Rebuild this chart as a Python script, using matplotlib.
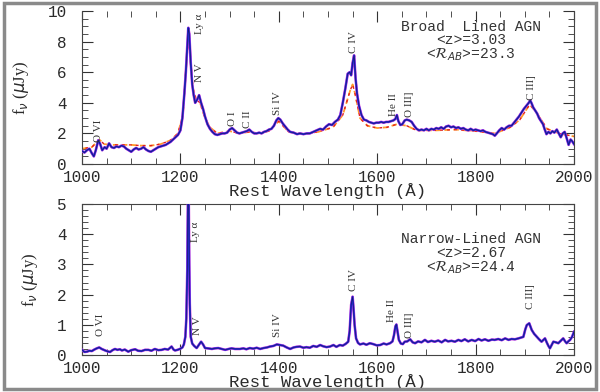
import matplotlib
matplotlib.use('Agg')
import matplotlib.pyplot as plt
from matplotlib.patches import Rectangle
from matplotlib.ticker import MultipleLocator

# Broad-lined AGN composite (rest wavelength in A, flux density in uJy)
broad_wave = [1000, 1005, 1010, 1015, 1020, 1024, 1028, 1033, 1037, 1041, 1046, 1050, 1055, 1060,
              1065, 1070, 1075, 1080, 1085, 1090, 1095, 1100, 1105, 1110, 1115, 1120, 1125, 1130,
              1135, 1140, 1145, 1150, 1155, 1160, 1165, 1170, 1175, 1180, 1185, 1190, 1195, 1200,
              1204, 1208, 1211, 1214, 1216, 1218, 1221, 1224, 1227, 1230, 1234, 1238, 1242, 1246,
              1250, 1255, 1260, 1265, 1270, 1275, 1280, 1285, 1290, 1295, 1300, 1305, 1310, 1315,
              1320, 1325, 1330, 1335, 1340, 1345, 1350, 1355, 1360, 1365, 1370, 1375, 1380, 1385,
              1390, 1395, 1399, 1403, 1408, 1413, 1418, 1423, 1430, 1437, 1443, 1450, 1457, 1463,
              1470, 1477, 1484, 1490, 1496, 1502, 1508, 1514, 1520, 1525, 1530, 1535, 1540, 1544,
              1547, 1550, 1553, 1556, 1559, 1563, 1568, 1573, 1578, 1583, 1588, 1593, 1598, 1603,
              1608, 1613, 1618, 1623, 1628, 1633, 1637, 1640, 1643, 1647, 1651, 1656, 1660, 1665,
              1670, 1675, 1680, 1685, 1690, 1695, 1700, 1705, 1710, 1715, 1720, 1725, 1730, 1735,
              1740, 1745, 1750, 1755, 1760, 1765, 1770, 1775, 1780, 1785, 1790, 1795, 1800, 1805,
              1810, 1815, 1820, 1825, 1830, 1835, 1839, 1843, 1848, 1853, 1858, 1863, 1868, 1873,
              1878, 1883, 1888, 1893, 1898, 1903, 1908, 1911, 1914, 1917, 1921, 1925, 1929, 1933,
              1937, 1940, 1944, 1948, 1952, 1956, 1960, 1965, 1969, 1973, 1977, 1981, 1985, 1989,
              1993, 1996, 2000]
broad_flux = [0.85, 0.75, 0.9, 1.0, 0.7, 0.5, 0.9, 1.55, 1.3, 0.9, 1.1, 1.0, 1.35, 1.1,
              1.05, 1.15, 1.1, 1.2, 1.15, 1.0, 0.9, 0.8, 0.95, 1.05, 0.95, 1.0, 1.1, 0.95,
              0.85, 0.8, 0.9, 1.0, 1.1, 1.15, 1.2, 1.25, 1.35, 1.45, 1.6, 1.75, 1.9, 2.2,
              3.0, 4.6, 6.0, 7.8, 8.9, 8.5, 6.6, 5.2, 4.5, 4.0, 4.2, 4.5, 4.0, 3.6,
              3.1, 2.6, 2.3, 2.1, 1.95, 1.9, 1.95, 2.0, 2.0, 2.05, 2.25, 2.35, 2.2, 2.05,
              2.0, 2.05, 2.1, 2.15, 2.25, 2.1, 2.0, 2.0, 2.05, 2.0, 2.1, 2.15, 2.25, 2.3,
              2.5, 2.85, 3.0, 2.9, 2.65, 2.45, 2.25, 2.1, 2.05, 1.95, 2.0, 1.95, 2.0, 2.0,
              2.1, 2.2, 2.3, 2.25, 2.45, 2.6, 2.55, 2.75, 2.9, 3.2, 4.0, 4.9, 5.9, 6.0,
              5.8, 6.6, 7.1, 5.6, 4.6, 3.8, 3.2, 2.9, 2.85, 2.75, 2.7, 2.65, 2.7, 2.7,
              2.75, 2.7, 2.75, 2.75, 2.8, 2.85, 2.95, 3.2, 2.8, 2.55, 2.6, 2.85, 2.9, 2.85,
              2.75, 2.5, 2.3, 2.2, 2.25, 2.2, 2.3, 2.2, 2.3, 2.25, 2.35, 2.3, 2.4, 2.3,
              2.45, 2.5, 2.4, 2.45, 2.35, 2.4, 2.3, 2.35, 2.25, 2.2, 2.3, 2.2, 2.25, 2.2,
              2.15, 2.2, 2.1, 2.05, 2.0, 1.95, 1.85, 2.0, 2.2, 2.35, 2.25, 2.4, 2.5, 2.5,
              2.7, 2.9, 3.1, 3.35, 3.6, 3.8, 4.0, 4.15, 3.95, 3.7, 3.5, 3.3, 3.0, 2.8,
              2.6, 2.3, 1.95, 2.1, 2.0, 2.15, 2.05, 2.25, 2.0, 1.75, 2.0, 2.1, 1.7, 1.25,
              1.6, 1.5, 1.3]

# smoother template over-plotted as a dashed curve
template_wave = [1000, 1020, 1035, 1045, 1060, 1080, 1100, 1120, 1140, 1160, 1180, 1195, 1205,
                 1212, 1216, 1220, 1225, 1232, 1240, 1250, 1260, 1275, 1300, 1320, 1340, 1360,
                 1380, 1400, 1420, 1450, 1480, 1510, 1530, 1545, 1550, 1555, 1565, 1580, 1600,
                 1620, 1640, 1660, 1680, 1720, 1760, 1800, 1840, 1870, 1890, 1910, 1925, 1945,
                 1970, 2000]
template_flux = [1.0, 1.1, 1.6, 1.3, 1.25, 1.25, 1.25, 1.2, 1.2, 1.3, 1.55, 2.0, 3.2,
                 6.5, 8.3, 7.0, 5.0, 4.2, 4.0, 3.0, 2.4, 2.0, 2.15, 2.0, 2.1, 2.0,
                 2.15, 2.8, 2.1, 1.95, 2.1, 2.4, 3.2, 4.8, 5.2, 4.6, 3.0, 2.5, 2.35,
                 2.4, 2.6, 2.5, 2.2, 2.2, 2.25, 2.15, 2.0, 2.4, 2.9, 3.9, 3.3, 2.3,
                 2.0, 1.8]

# Narrow-lined AGN composite
narrow_wave = [1000, 1005, 1010, 1015, 1020, 1025, 1030, 1035, 1040, 1047, 1052, 1057, 1062, 1067,
               1072, 1077, 1081, 1087, 1094, 1100, 1108, 1114, 1121, 1128, 1135, 1141, 1148, 1155,
               1162, 1168, 1175, 1182, 1186, 1189, 1194, 1199, 1204, 1207, 1210, 1212, 1214, 1215,
               1216, 1217, 1218, 1219, 1221, 1224, 1228, 1233, 1238, 1242, 1246, 1250, 1256, 1264,
               1270, 1277, 1284, 1291, 1298, 1304, 1311, 1317, 1321, 1328, 1334, 1341, 1348, 1355,
               1362, 1369, 1376, 1382, 1389, 1396, 1402, 1409, 1416, 1423, 1430, 1436, 1443, 1450,
               1456, 1463, 1470, 1477, 1484, 1490, 1497, 1504, 1511, 1517, 1524, 1530, 1536, 1541,
               1544, 1547, 1550, 1552, 1554, 1557, 1561, 1565, 1572, 1578, 1585, 1592, 1599, 1606,
               1613, 1619, 1626, 1631, 1634, 1637, 1639, 1641, 1644, 1648, 1652, 1656, 1661, 1667,
               1672, 1677, 1683, 1690, 1697, 1703, 1710, 1717, 1724, 1731, 1738, 1744, 1751, 1758,
               1765, 1771, 1778, 1785, 1792, 1799, 1806, 1812, 1819, 1826, 1833, 1839, 1846, 1853,
               1860, 1867, 1873, 1880, 1887, 1893, 1897, 1901, 1904, 1909, 1914, 1919, 1924, 1929,
               1934, 1938, 1941, 1945, 1948, 1951, 1955, 1958, 1963, 1968, 1973, 1978, 1982, 1985,
               1989, 1992, 1996, 2000]
narrow_flux = [0.17, 0.1, 0.11, 0.14, 0.13, 0.18, 0.22, 0.25, 0.2, 0.15, 0.12, 0.1, 0.16, 0.2,
               0.17, 0.19, 0.15, 0.18, 0.11, 0.16, 0.19, 0.14, 0.13, 0.17, 0.17, 0.14, 0.2, 0.16,
               0.17, 0.2, 0.18, 0.28, 0.18, 0.15, 0.17, 0.2, 0.25, 0.35, 0.6, 1.2, 2.8, 4.5,
               6.5, 5.0, 3.0, 1.7, 0.6, 0.38, 0.3, 0.23, 0.35, 0.44, 0.35, 0.23, 0.22, 0.2,
               0.22, 0.23, 0.2, 0.17, 0.2, 0.22, 0.2, 0.2, 0.2, 0.22, 0.19, 0.23, 0.21, 0.24,
               0.2, 0.23, 0.25, 0.28, 0.3, 0.35, 0.33, 0.31, 0.25, 0.2, 0.25, 0.27, 0.28, 0.24,
               0.26, 0.24, 0.3, 0.27, 0.33, 0.29, 0.26, 0.28, 0.33, 0.27, 0.33, 0.31, 0.37, 0.44,
               0.8, 1.66, 1.93, 1.5, 1.0, 0.55, 0.4, 0.35, 0.38, 0.34, 0.39, 0.36, 0.32, 0.33,
               0.38, 0.35, 0.39, 0.45, 0.65, 0.95, 1.01, 0.8, 0.5, 0.38, 0.36, 0.44, 0.45, 0.52,
               0.42, 0.39, 0.45, 0.42, 0.5, 0.43, 0.47, 0.44, 0.48, 0.42, 0.5, 0.45, 0.47, 0.44,
               0.5, 0.46, 0.52, 0.45, 0.5, 0.46, 0.53, 0.48, 0.52, 0.47, 0.51, 0.5, 0.53, 0.49,
               0.55, 0.5, 0.53, 0.52, 0.55, 0.58, 0.6, 0.85, 0.99, 1.05, 0.83, 0.7, 0.61, 0.52,
               0.44, 0.5, 0.55, 0.4, 0.3, 0.22, 0.35, 0.44, 0.42, 0.39, 0.47, 0.55, 0.45, 0.39,
               0.46, 0.5, 0.6, 0.77]

# emission line ids: (label, wavelength, height)
broad_lines = [('O VI', 1033, 2.16), ('Ly α', 1238, 9.15), ('N V', 1238, 6.0),
               ('O I', 1305, 2.94), ('C II', 1337, 2.94), ('Si IV', 1398, 4.0),
               ('C IV', 1551, 8.0), ('He II', 1634, 3.9), ('O III]', 1665, 3.9),
               ('C III]', 1913, 5.0)]
narrow_lines = [('O VI', 1037, 1.0), ('Ly α', 1230, 4.07), ('N V', 1234, 0.96),
                ('Si IV', 1398, 1.0), ('C IV', 1551, 2.48), ('He II', 1630, 1.46),
                ('O III]', 1665, 1.0), ('C III]', 1911, 1.95)]

MONO = 'Liberation Mono'
SERIF = 'Liberation Serif'
TEXT = '#2a2a2a'

fig = plt.figure(figsize=(6.0, 3.92), dpi=100)
fig.patches.append(Rectangle((0.006, 0.008), 0.988, 0.984, transform=fig.transFigure,
                             fill=False, edgecolor='#8a8a8a', linewidth=2.5))

ax_top = fig.add_axes([0.1367, 0.5816, 0.82, 0.3904])
ax_bot = fig.add_axes([0.1367, 0.0944, 0.82, 0.3852])


def style_axis(ax, ymax, ymajor, yminor):
    ax.set_xlim(1000, 2000)
    ax.set_ylim(0, ymax)
    ax.xaxis.set_major_locator(MultipleLocator(200))
    ax.xaxis.set_minor_locator(MultipleLocator(50))
    ax.yaxis.set_major_locator(MultipleLocator(ymajor))
    ax.yaxis.set_minor_locator(MultipleLocator(yminor))
    ax.tick_params(which='both', direction='in', top=True, right=True, color='#333333')
    ax.tick_params(which='major', length=8, width=0.8)
    ax.tick_params(which='minor', length=4, width=0.6)
    ax.tick_params(axis='x', pad=4)
    ax.tick_params(axis='y', pad=11)
    for lbl in ax.get_xticklabels() + ax.get_yticklabels():
        lbl.set_fontfamily(MONO)
        lbl.set_fontsize(11.5)
        lbl.set_color(TEXT)
    for sp in ax.spines.values():
        sp.set_color('#444444')
        sp.set_linewidth(0.8)
    ax.set_xlabel('Rest Wavelength (Å)', fontfamily=MONO, fontsize=12.5, color=TEXT,
                  labelpad=-1)
    ax.set_ylabel(r'f$_\nu$ ($\mu$Jy)', fontfamily=SERIF, fontsize=12, color=TEXT,
                  labelpad=12)


def draw_spectrum(ax, wave, flux):
    ax.plot(wave, flux, color='#d43ad8', lw=1.9, zorder=3)
    ax.plot(wave, flux, color='#2b2be0', lw=1.4, zorder=4)
    ax.plot(wave, flux, color='#18186a', lw=0.5, zorder=5)


def label_lines(ax, lines):
    for name, wl, y in lines:
        ax.text(wl, y, name, rotation=90, ha='center', va='center', fontfamily=SERIF,
                fontsize=8, color='#333333', zorder=6)


# top panel: broad lined
ax_top.plot(template_wave, template_flux, color='#ff9a2a', lw=1.3, ls=(0, (3, 2)), zorder=2)
ax_top.plot(template_wave, template_flux, color='#e02020', lw=1.0, ls=(2.5, (2, 3)), zorder=2)
draw_spectrum(ax_top, broad_wave, broad_flux)
label_lines(ax_top, broad_lines)
style_axis(ax_top, 10, 2, 0.5)
ax_top.spines['top'].set_visible(False)
ax_top.text(1790, 8.0, 'Broad  Lined AGN\n<z>=3.03\n' + r'<$\mathcal{R}_{AB}$>=23.3',
            ha='center', va='center', fontfamily=MONO, fontsize=10.5, color='#333333',
            linespacing=0.95)

# bottom panel: narrow lined
draw_spectrum(ax_bot, narrow_wave, narrow_flux)
label_lines(ax_bot, narrow_lines)
style_axis(ax_bot, 5, 1, 0.2)
ax_bot.text(1790, 3.35, 'Narrow-Lined AGN\n<z>=2.67\n' + r'<$\mathcal{R}_{AB}$>=24.4',
            ha='center', va='center', fontfamily=MONO, fontsize=10.5, color='#333333',
            linespacing=0.95)

fig.savefig('out.png', dpi=100)
